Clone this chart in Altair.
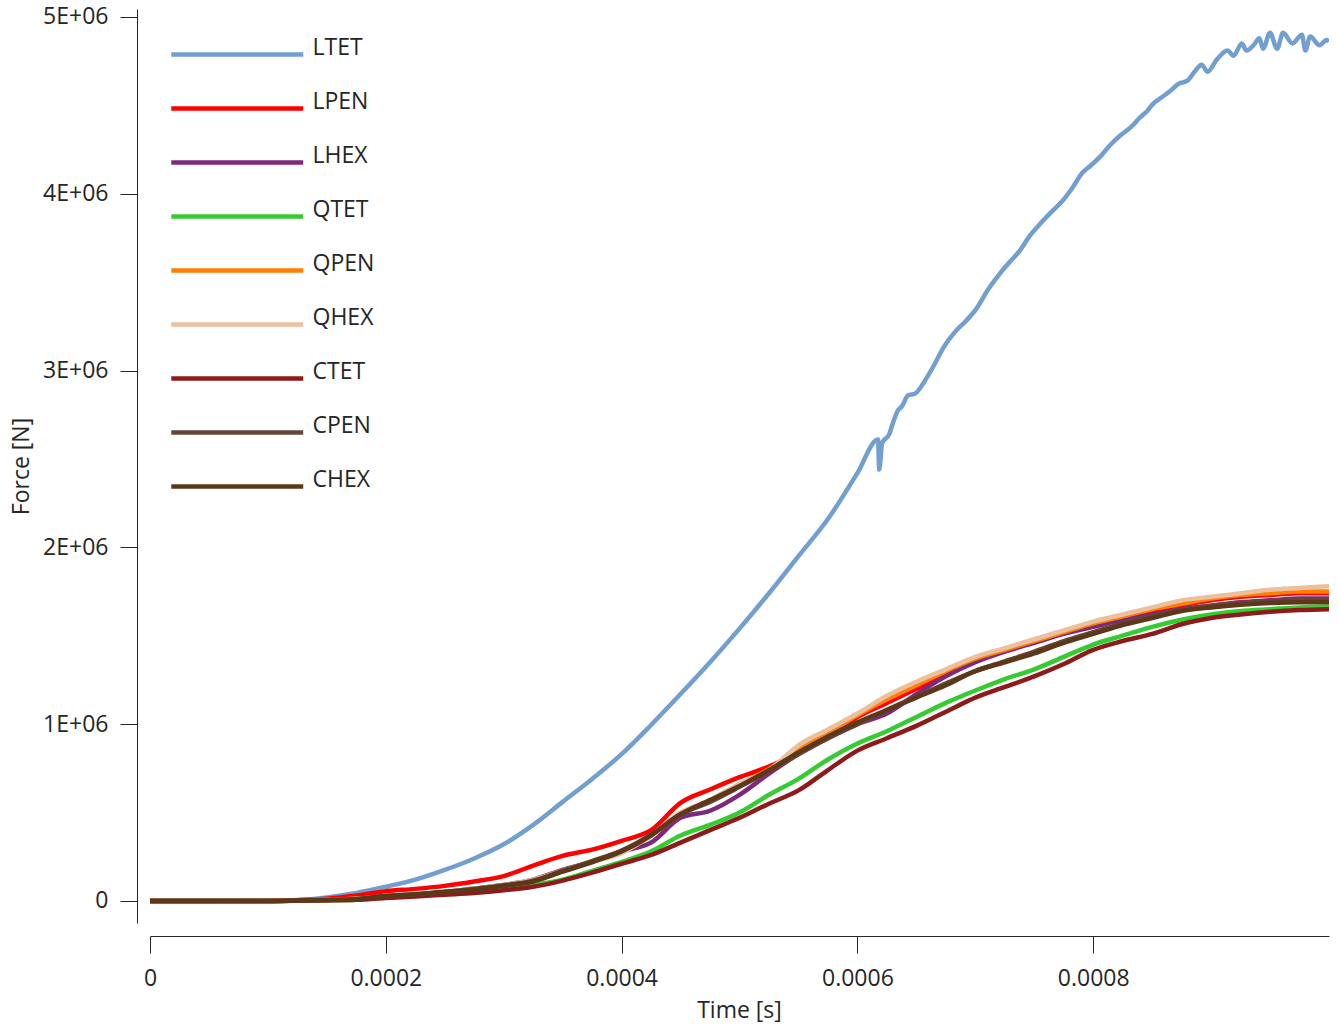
import altair as alt
import pandas as pd

# ---------------- data ----------------
series_names = ["LTET", "LPEN", "LHEX", "QTET", "QPEN", "QHEX", "CTET", "CPEN", "CHEX"]
series_colors = ["#729fcf", "#ff0000", "#7d2a7d", "#33cc33", "#ff8000",
                 "#eac09e", "#8e1b1b", "#654538", "#5d3818"]

# common time grid (ms) for the lower curves
t_grid_ms = [0.0, 0.025, 0.05, 0.075, 0.1, 0.125, 0.15, 0.175, 0.2, 0.225,
             0.25, 0.275, 0.3, 0.325, 0.35, 0.375, 0.4, 0.425, 0.45, 0.475,
             0.5, 0.525, 0.55, 0.575, 0.6, 0.625, 0.65, 0.675, 0.7, 0.725,
             0.75, 0.775, 0.8, 0.825, 0.85, 0.875, 0.9, 0.925, 0.95, 0.975, 1.0]

# forces in MN
LPEN = [0, 0, 0, 0, 0, 0.004, 0.012, 0.03, 0.055, 0.068,
        0.085, 0.11, 0.14, 0.2, 0.255, 0.29, 0.34, 0.40, 0.555, 0.63,
        0.70, 0.76, 0.84, 0.93, 1.04, 1.12, 1.20, 1.28, 1.36, 1.42,
        1.47, 1.52, 1.56, 1.60, 1.63, 1.67, 1.70, 1.72, 1.73, 1.74, 1.74]
LHEX = [0, 0, 0, 0, 0, 0.002, 0.006, 0.012, 0.025, 0.035,
        0.05, 0.07, 0.09, 0.12, 0.175, 0.22, 0.28, 0.33, 0.47, 0.51,
        0.60, 0.72, 0.83, 0.92, 1.00, 1.06, 1.17, 1.27, 1.35, 1.41,
        1.46, 1.51, 1.55, 1.59, 1.62, 1.65, 1.67, 1.69, 1.70, 1.71, 1.71]
QTET = [0, 0, 0, 0, 0, 0.001, 0.003, 0.007, 0.02, 0.03,
        0.04, 0.055, 0.07, 0.09, 0.12, 0.17, 0.22, 0.28, 0.37, 0.43,
        0.50, 0.60, 0.69, 0.80, 0.89, 0.96, 1.04, 1.12, 1.19, 1.255,
        1.31, 1.38, 1.45, 1.50, 1.55, 1.59, 1.62, 1.64, 1.65, 1.66, 1.665]
QPEN = [0, 0, 0, 0, 0, 0.002, 0.006, 0.012, 0.025, 0.035,
        0.05, 0.068, 0.088, 0.115, 0.17, 0.225, 0.28, 0.37, 0.49, 0.57,
        0.66, 0.745, 0.86, 0.95, 1.05, 1.14, 1.22, 1.30, 1.37, 1.42,
        1.47, 1.52, 1.57, 1.61, 1.65, 1.68, 1.71, 1.73, 1.74, 1.75, 1.75]
QHEX = [0, 0, 0, 0, 0, 0.002, 0.006, 0.012, 0.025, 0.035,
        0.05, 0.07, 0.09, 0.12, 0.17, 0.22, 0.27, 0.37, 0.50, 0.57,
        0.66, 0.74, 0.88, 0.97, 1.06, 1.16, 1.24, 1.31, 1.38, 1.43,
        1.48, 1.53, 1.58, 1.62, 1.66, 1.70, 1.72, 1.74, 1.76, 1.77, 1.78]
CTET = [0, 0, 0, 0, 0, 0.001, 0.003, 0.006, 0.017, 0.025,
        0.035, 0.045, 0.06, 0.08, 0.115, 0.16, 0.21, 0.26, 0.33, 0.40,
        0.47, 0.55, 0.625, 0.74, 0.85, 0.92, 0.99, 1.07, 1.15, 1.21,
        1.27, 1.34, 1.42, 1.47, 1.51, 1.565, 1.60, 1.62, 1.635, 1.645, 1.65]
CPEN = [0, 0, 0, 0, 0, 0.002, 0.005, 0.011, 0.028, 0.038,
        0.052, 0.068, 0.088, 0.115, 0.17, 0.225, 0.285, 0.375, 0.49, 0.56,
        0.645, 0.735, 0.83, 0.92, 1.00, 1.08, 1.155, 1.23, 1.30, 1.355,
        1.41, 1.47, 1.52, 1.57, 1.61, 1.645, 1.67, 1.685, 1.695, 1.70, 1.70]
CHEX = [0, 0, 0, 0, 0, 0.002, 0.005, 0.01, 0.028, 0.037,
        0.05, 0.065, 0.085, 0.11, 0.165, 0.22, 0.28, 0.37, 0.49, 0.57,
        0.65, 0.74, 0.84, 0.93, 1.01, 1.08, 1.15, 1.22, 1.30, 1.35,
        1.40, 1.46, 1.51, 1.56, 1.60, 1.64, 1.66, 1.675, 1.685, 1.69, 1.69]

# LTET has its own (denser) time samples
LTET_t_ms = [0.0, 0.05, 0.1, 0.125, 0.15, 0.175, 0.2, 0.225, 0.25, 0.275,
             0.3, 0.325, 0.35, 0.375, 0.4, 0.425, 0.45, 0.475, 0.5, 0.525,
             0.55, 0.575, 0.6, 0.6175, 0.6185, 0.621, 0.627, 0.630, 0.634, 0.638,
             0.643, 0.649, 0.657, 0.665, 0.673, 0.683, 0.692, 0.701, 0.711, 0.721,
             0.73, 0.738, 0.746, 0.755, 0.765, 0.774, 0.782, 0.791, 0.798, 0.806,
             0.815, 0.823, 0.829, 0.834, 0.838, 0.846, 0.851, 0.857, 0.865, 0.872,
             0.880, 0.886, 0.892, 0.897, 0.905, 0.914, 0.919, 0.926, 0.930, 0.936,
             0.941, 0.944, 0.950, 0.956, 0.961, 0.969, 0.977, 0.980, 0.984, 0.992,
             0.998, 1.0]
LTET = [0, 0, 0.001, 0.005, 0.02, 0.045, 0.08, 0.12, 0.175, 0.24,
        0.32, 0.43, 0.56, 0.69, 0.83, 0.995, 1.17, 1.35, 1.54, 1.74,
        1.95, 2.16, 2.42, 2.61, 2.44, 2.59, 2.64, 2.70, 2.77, 2.80,
        2.86, 2.87, 2.94, 3.03, 3.13, 3.22, 3.28, 3.35, 3.46, 3.55,
        3.62, 3.68, 3.76, 3.83, 3.90, 3.96, 4.03, 4.12, 4.16, 4.21,
        4.28, 4.33, 4.36, 4.39, 4.42, 4.47, 4.51, 4.54, 4.58, 4.62,
        4.64, 4.69, 4.73, 4.69, 4.76, 4.81, 4.78, 4.85, 4.81, 4.84,
        4.88, 4.82, 4.91, 4.82, 4.91, 4.85, 4.90, 4.81, 4.89, 4.84,
        4.87, 4.86]

x_major = [0, 0.0002, 0.0004, 0.0006, 0.0008]
x_mid = [0.0001, 0.0003, 0.0005, 0.0007, 0.0009]
x_minor = [0.00005, 0.00015, 0.00025, 0.00035, 0.00045,
           0.00055, 0.00065, 0.00075, 0.00085, 0.00095]
y_major = [0, 1e6, 2e6, 3e6, 4e6, 5e6]
y_minor = [v * 1e6 for v in [0.2, 0.4, 0.6, 0.8, 1.2, 1.4, 1.6, 1.8, 2.2, 2.4,
                             2.6, 2.8, 3.2, 3.4, 3.6, 3.8, 4.2, 4.4, 4.6, 4.8]]

# ---------------- table ----------------
rows = []
lower = {"LPEN": LPEN, "LHEX": LHEX, "QTET": QTET, "QPEN": QPEN,
         "QHEX": QHEX, "CTET": CTET, "CPEN": CPEN, "CHEX": CHEX}
for t, f in zip(LTET_t_ms, LTET):
    rows.append({"series": "LTET", "time": t / 1000.0, "force": f * 1e6})
for name in series_names[1:]:
    for t, f in zip(t_grid_ms, lower[name]):
        rows.append({"series": name, "time": t / 1000.0, "force": f * 1e6})
df = pd.DataFrame(rows)

FONT = "Open Sans"
TXT = "#262626"
x_scale = alt.Scale(domain=[0, 0.001], nice=False, zero=False)
y_scale = alt.Scale(domain=[-125000, 5045000], nice=False, zero=False)

common_axis = dict(grid=False, offset=13, domainColor=TXT, tickColor=TXT,
                   tickWidth=1, domainWidth=1, labelColor=TXT, labelFont=FONT,
                   labelFontSize=23, titleFont=FONT, titleFontSize=23,
                   titleColor=TXT, titleFontWeight="normal")

ax_x_major = alt.Axis(values=x_major, format=".4~f", tickSize=17, labelPadding=14,
                      labelFlush=False, labelOverlap=False,
                      title="Time [s]", titleBaseline="alphabetic",
                      titleX=589, titleY=81, titleAnchor="middle", **common_axis)
ax_y_major = alt.Axis(values=y_major,
                      labelExpr="datum.value == 0 ? '0' : format(datum.value / 1e6, 'd') + 'E+06'",
                      tickSize=17, labelPadding=12, labelFlush=False, labelOverlap=False,
                      title="Force [N]", titleAngle=270, titleBaseline="alphabetic",
                      titleX=-109, titleY=457, **common_axis)
ax_x_mid = alt.Axis(values=x_mid, tickSize=14, labels=False, domain=False,
                    title=None, **common_axis)
ax_x_minor = alt.Axis(values=x_minor, tickSize=10, labels=False, domain=False,
                      title=None, **common_axis)
ax_y_minor = alt.Axis(values=y_minor, tickSize=10, labels=False, domain=False,
                      title=None, **common_axis)

legend = alt.Legend(orient="none", legendX=75.75, legendY=34, title=None,
                    symbolType="M-8,0L8,0", symbolSize=272, symbolStrokeWidth=4.5,
                    labelOffset=63.75, labelFont=FONT, labelFontSize=23,
                    labelColor=TXT, labelBaseline="alphabetic", rowPadding=26,
                    labelLimit=0)

lines = alt.Chart(df).mark_line(strokeWidth=4.5, clip=True, interpolate="monotone").encode(
    x=alt.X("time:Q", scale=x_scale, axis=ax_x_major),
    y=alt.Y("force:Q", scale=y_scale, axis=ax_y_major),
    color=alt.Color("series:N", scale=alt.Scale(domain=series_names, range=series_colors),
                    legend=legend, sort=series_names),
)

ticks1 = alt.Chart(df).mark_point(opacity=0).encode(
    x=alt.X("time:Q", scale=x_scale, axis=ax_x_mid),
    y=alt.Y("force:Q", scale=y_scale, axis=ax_y_minor),
)
ticks2 = alt.Chart(df).mark_point(opacity=0).encode(
    x=alt.X("time:Q", scale=x_scale, axis=ax_x_minor),
    y=alt.Y("force:Q", scale=y_scale, axis=None),
)

chart = alt.layer(lines, ticks1, ticks2).resolve_axis(
    x="independent", y="independent"
).properties(
    width=1179, height=914,
    background="white",
    autosize=alt.AutoSizeParams(type="none"),
    padding={"left": 150, "top": 9, "right": 10, "bottom": 101},
).configure_view(stroke=None)

chart.save("out.html", embed_options={"renderer": "svg", "actions": False})
